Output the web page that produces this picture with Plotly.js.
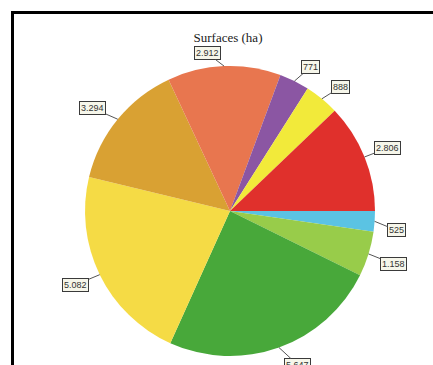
<!DOCTYPE html>
<html>
<head>
<meta charset="utf-8">
<script src="https://cdn.plot.ly/plotly-3.0.1.min.js"></script>
<style>
  html, body { margin: 0; padding: 0; background: #ffffff; overflow: hidden; }
  #wrap { position: relative; width: 433px; height: 365px; overflow: hidden; }
  #chart { position: absolute; left: 0; top: 0; width: 433px; height: 365px; }
  #frame {
    position: absolute; left: 11px; top: 11px; width: 440px; height: 380px;
    border-left: 3px solid #000; border-top: 3px solid #000;
    pointer-events: none;
  }
</style>
</head>
<body>
<div id="wrap">
  <div id="chart"></div>
  <div id="frame"></div>
</div>
<script>
// Surfaces per category, in hectares, listed counterclockwise from 3 o'clock
const categories = ['A', 'B', 'C', 'D', 'E', 'F', 'G', 'H', 'I'];
const surfaces = [2806, 888, 771, 2912, 3294, 5082, 5647, 1158, 525];
const sliceColors = ['#E0302C', '#F2EA3A', '#8B56A3', '#E8764F', '#D9A133',
                     '#F5DB45', '#48A83A', '#98CC4A', '#5BC3E3'];

// Offsets (px) of each value box from the point where its leader meets the rim
const labelOffsets = [[23, -9], [19, -12], [16, -14], [-17, -13], [-25, -11],
                      [-24, 10], [19, 18], [25, 10], [22, 9]];

const W = 433, H = 365;
const margin = { l: 85, r: 58, t: 66, b: 9 };

function fmt(v) {
  return String(v).replace(/\B(?=(\d{3})+(?!\d))/g, '.');
}

const total = surfaces.reduce((a, b) => a + b, 0);
const annotations = [];
let cum = 0;
surfaces.forEach((v, i) => {
  const mid = (cum + v / 2) / total * 2 * Math.PI; // counterclockwise from east
  cum += v;
  annotations.push({
    xref: 'paper', yref: 'paper',
    x: 0.5 + 0.5 * Math.cos(mid),
    y: 0.5 + 0.5 * Math.sin(mid),
    text: fmt(v),
    showarrow: true, arrowhead: 0, arrowwidth: 1, arrowcolor: '#555',
    standoff: 0,
    ax: labelOffsets[i][0], ay: labelOffsets[i][1],
    bgcolor: '#f6f6ea', bordercolor: '#3a3a3a', borderwidth: 1, borderpad: 1,
    font: { family: 'Liberation Sans, Arial, sans-serif', size: 9, color: '#333' }
  });
});

// Plotly lays slices clockwise from the rotation angle, so feed them in
// reverse: the last category then ends right at 3 o'clock.
const data = [{
  type: 'pie',
  labels: categories.slice().reverse(),
  values: surfaces.slice().reverse(),
  sort: false,
  direction: 'clockwise',
  rotation: 90,
  marker: { colors: sliceColors.slice().reverse(), line: { width: 0 } },
  textinfo: 'none',
  hoverinfo: 'none',
  showlegend: false
}];

const layout = {
  width: W, height: H,
  margin: margin,
  paper_bgcolor: 'rgba(0,0,0,0)',
  plot_bgcolor: 'rgba(0,0,0,0)',
  separators: ',.',
  title: {
    text: 'Surfaces (ha)',
    x: 228 / W, xanchor: 'center',
    y: 1 - 37 / H, yanchor: 'middle',
    font: { family: 'Liberation Serif, Times New Roman, serif', size: 13, color: '#1a1a1a' }
  },
  annotations: annotations,
  showlegend: false
};

Plotly.newPlot('chart', data, layout, { staticPlot: true });
</script>
</body>
</html>
